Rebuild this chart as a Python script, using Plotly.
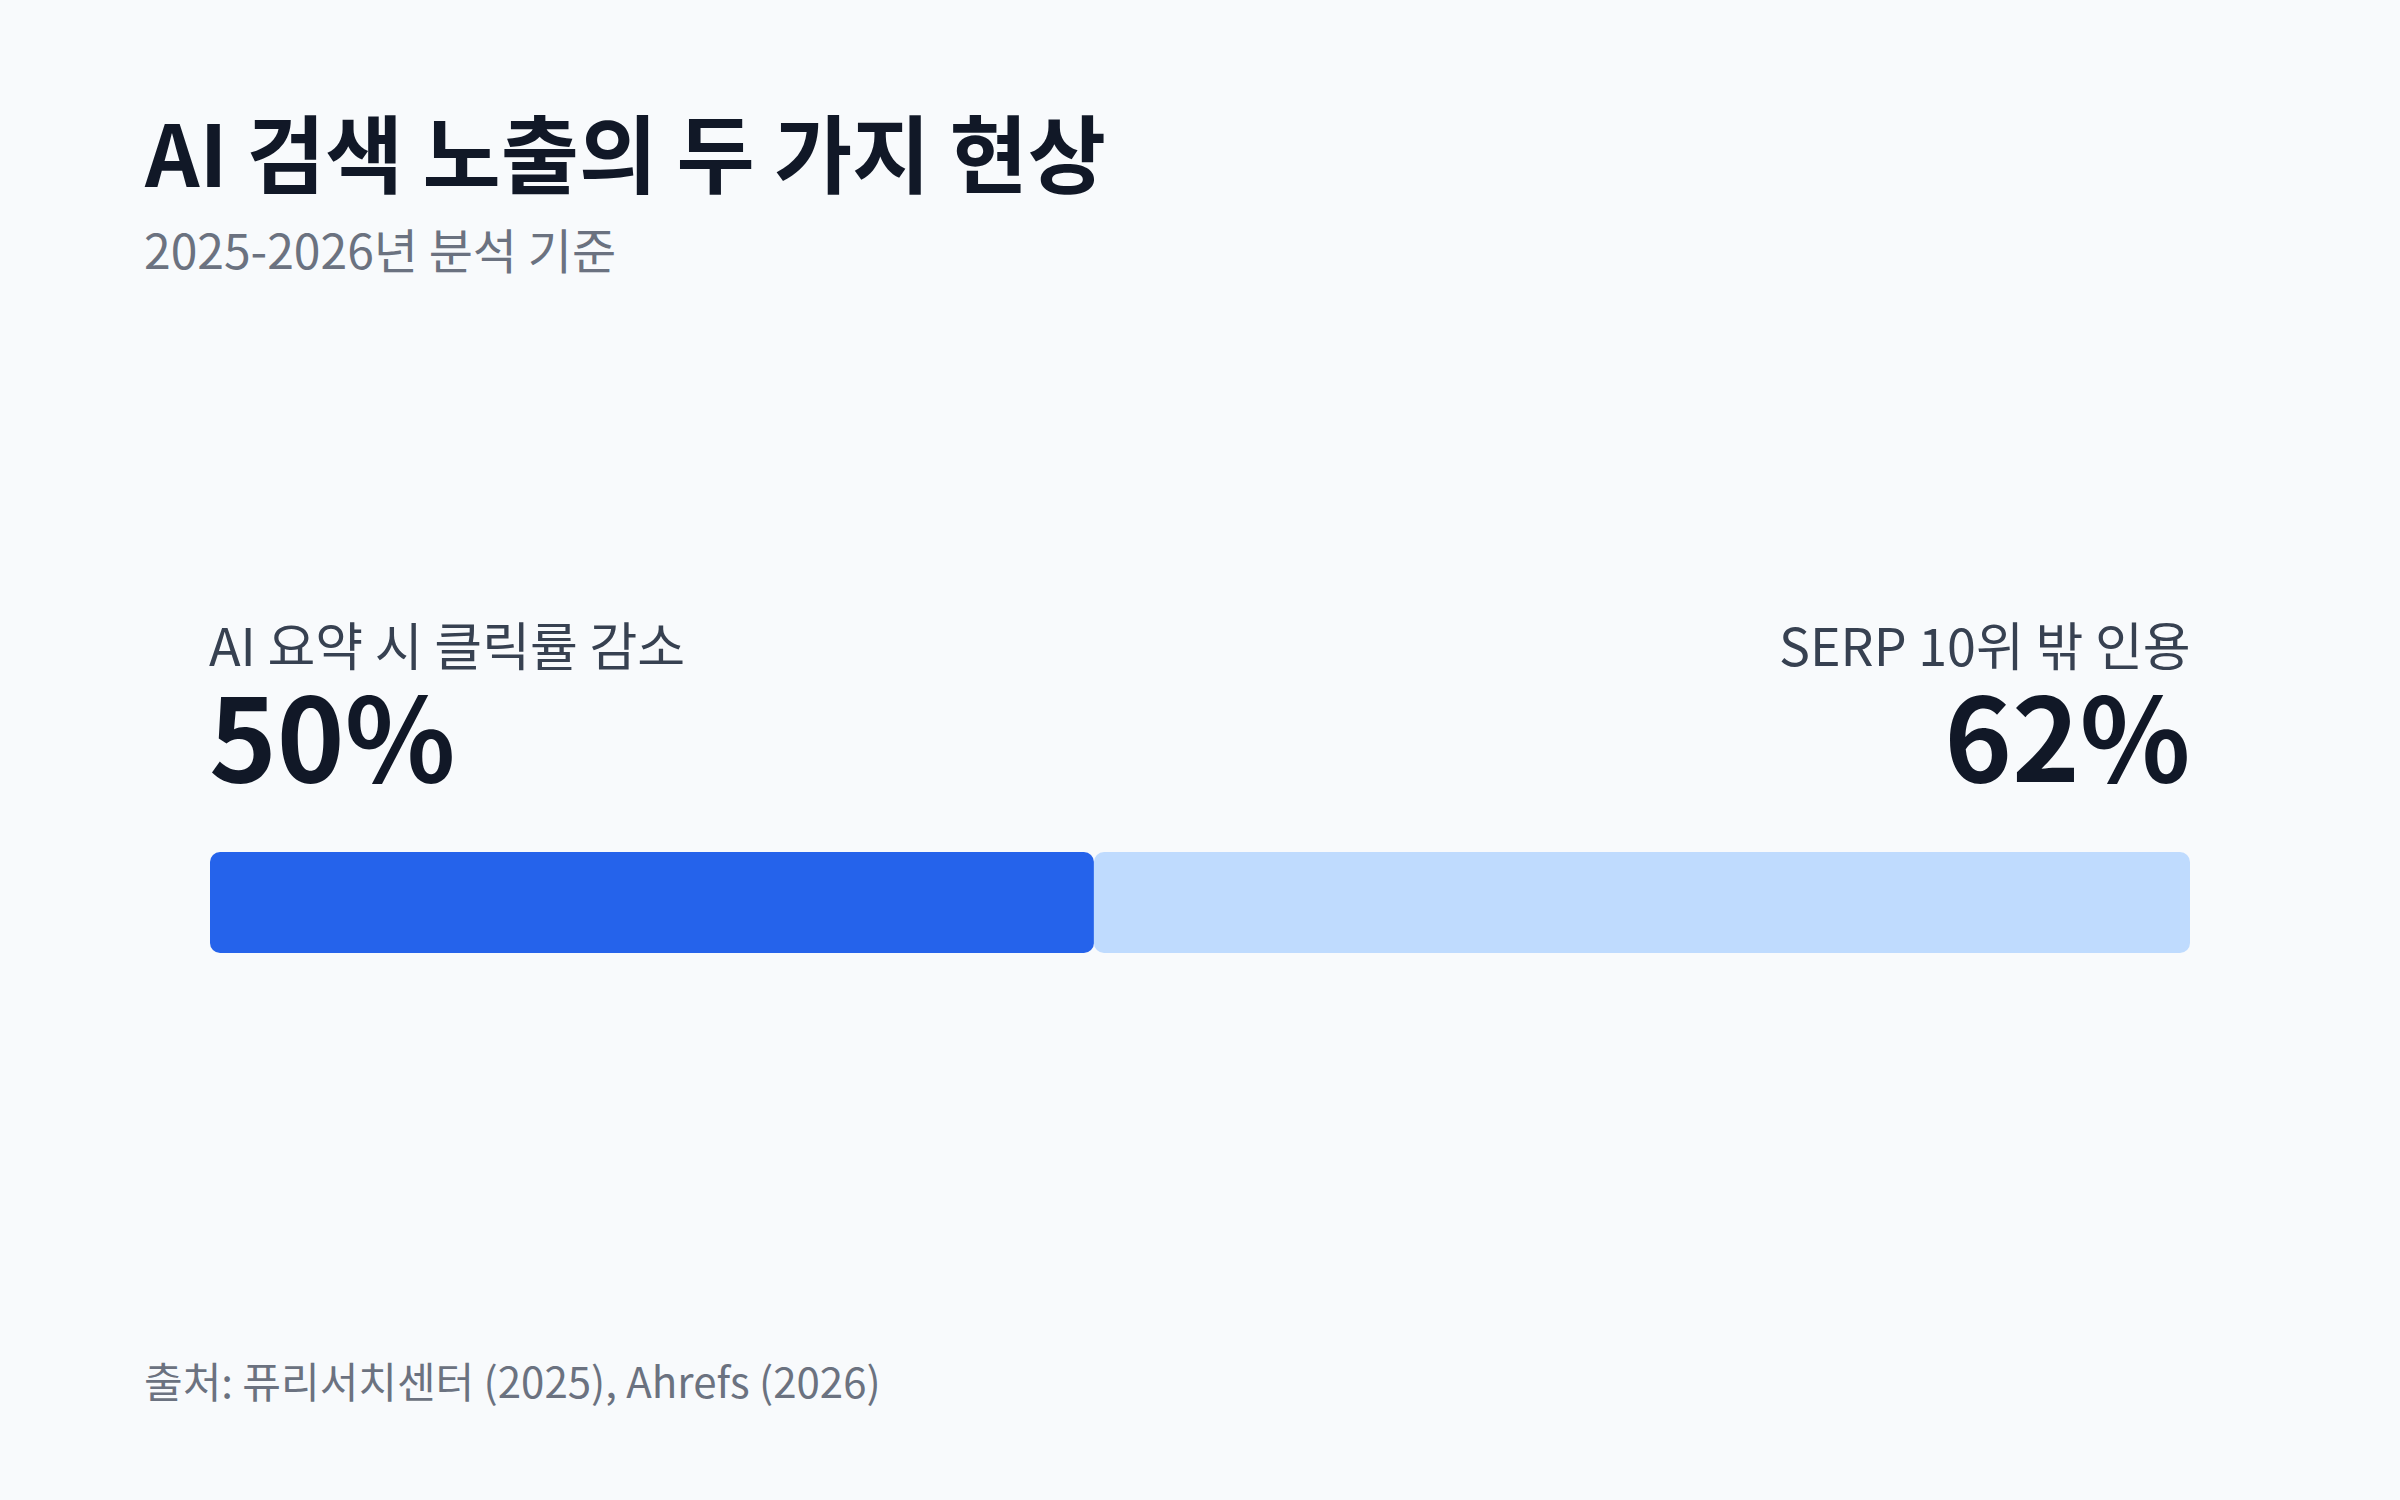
import plotly.graph_objects as go

# ---- data ----
metric_labels = ["AI 요약 시 클릭률 감소", "SERP 10위 밖 인용"]
metric_values = [50, 62]
value_texts = ["50%", "62%"]
bar_colors = ["#2563eb", "#bfdbfe"]
title_text = "AI 검색 노출의 두 가지 현상"
subtitle_text = "2025-2026년 분석 기준"
source_text = "출처: 퓨리서치센터 (2025), Ahrefs (2026)"

W, H = 2400, 1500
ML, MR, MT, MB = 210, 210, 852, 547
PW, PH = W - ML - MR, H - MT - MB
FONT = "Noto Sans CJK KR"


def px_x(p):
    return (p - ML) / PW


def px_y(p):
    return (H - MB - p) / PH


fig = go.Figure()

bases = []
acc = 0
for v in metric_values:
    bases.append(acc)
    acc += v
total = acc

fig.add_trace(go.Bar(
    y=[0] * len(metric_values), x=metric_values, base=bases,
    orientation="h", width=1,
    marker=dict(color=bar_colors, cornerradius=10, line=dict(width=0)),
    hoverinfo="skip", showlegend=False,
))


def metric_text(label, value):
    return (f"<span style='font-size:52px;color:#374151'>{label}</span><br>"
            f"<span style='font-size:115px'><b>{value}</b></span>")


annotations = [
    dict(text=f"<b>{title_text}</b>", x=px_x(142), y=px_y(149), xref="paper", yref="paper",
         xanchor="left", yanchor="middle", showarrow=False,
         font=dict(family=FONT, size=85, color="#111827")),
    dict(text=subtitle_text, x=px_x(142), y=px_y(248), xref="paper", yref="paper",
         xanchor="left", yanchor="middle", showarrow=False,
         font=dict(family=FONT, size=48, color="#6b7280")),
    dict(text=source_text, x=px_x(142), y=px_y(1379), xref="paper", yref="paper",
         xanchor="left", yanchor="middle", showarrow=False,
         font=dict(family=FONT, size=42, color="#6b7280")),
    # left metric (label + value)
    dict(text=metric_text(metric_labels[0], value_texts[0]), x=0, y=px_y(710),
         xref="x", yref="paper", xanchor="left", yanchor="middle", align="left",
         showarrow=False, xshift=-3,
         font=dict(family=FONT, size=89, color="#111827")),
    # right metric (label + value)
    dict(text=metric_text(metric_labels[1], value_texts[1]), x=total, y=px_y(710),
         xref="x", yref="paper", xanchor="right", yanchor="middle", align="right",
         showarrow=False, xshift=3,
         font=dict(family=FONT, size=89, color="#111827")),
]

fig.update_layout(
    width=W, height=H,
    margin=dict(l=ML, r=MR, t=MT, b=MB, pad=0),
    paper_bgcolor="#f8fafc", plot_bgcolor="#f8fafc",
    barmode="overlay",
    xaxis=dict(range=[0, total], visible=False, fixedrange=True),
    yaxis=dict(range=[-0.5, 0.5], visible=False, fixedrange=True),
    annotations=annotations,
    font=dict(family=FONT),
)

fig.write_html(
    "out.html",
    config={"displayModeBar": False},
    post_script="document.body.style.margin='0';document.body.style.padding='0';",
)
